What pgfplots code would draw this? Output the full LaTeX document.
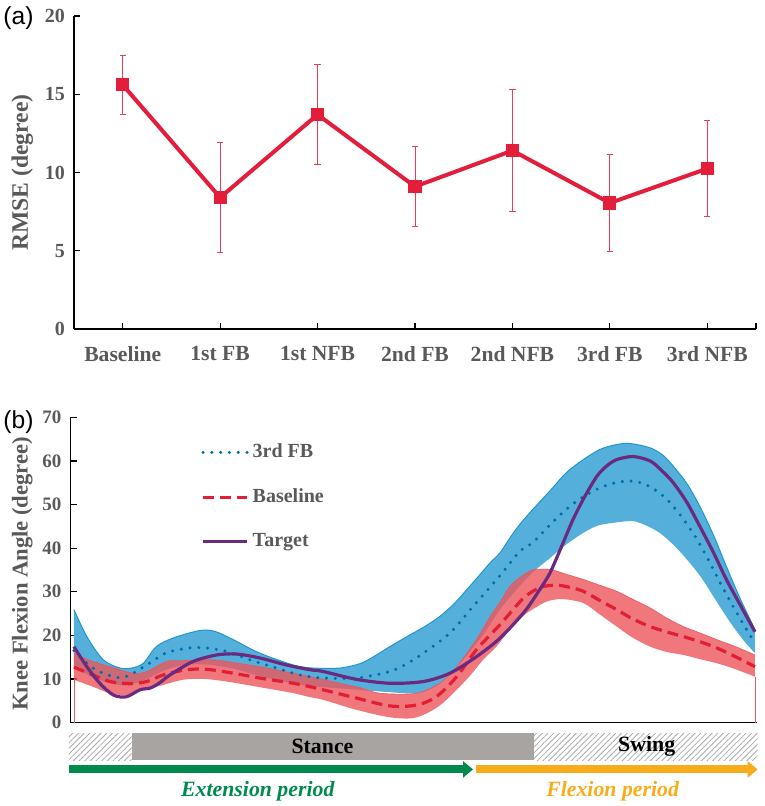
\documentclass[border=0pt]{standalone}
\usepackage{fontspec}
\setmainfont{Liberation Serif}
\newfontfamily\labsans{Liberation Sans}
\usepackage{pgfplots}
\pgfplotsset{compat=1.18}
\usepackage{pgfplotstable}
\usepgfplotslibrary{fillbetween}
\usetikzlibrary{patterns.meta,arrows.meta}

\definecolor{labelgray}{RGB}{89,89,89}
\definecolor{topred}{RGB}{226,30,58}
\definecolor{bluefill}{RGB}{84,176,218}
\definecolor{blueedge}{RGB}{30,150,210}
\definecolor{bluedot}{RGB}{0,110,170}
\definecolor{redband}{RGB}{236,86,92}
\definecolor{reddash}{RGB}{226,30,55}
\definecolor{targetcol}{RGB}{106,42,128}
\definecolor{stancegray}{RGB}{168,164,162}
\definecolor{hatchgray}{RGB}{170,170,170}
\definecolor{extgreen}{RGB}{0,138,78}
\definecolor{flexorange}{RGB}{248,172,26}

\pgfplotstableread{
x y e
0 15.6 1.9
1 8.4 3.5
2 13.7 3.2
3 9.1 2.55
4 11.4 3.9
5 8.05 3.1
6 10.25 3.07
}\rmsetab

\pgfplotstableread{
x y
0 25.9
1.9 19.7
4.3 14.4
6.75 12.5
8.5 12.5
10.2 13.6
12.1 17.4
14.6 19.4
18.5 21.1
20.7 20.9
23.4 19.0
27.3 15.9
32.2 13.2
35 12.5
39.1 12.5
42 13.5
44 15.1
46.5 17.5
48.9 19.7
51.5 22
53.7 24.3
55.8 27.2
57.7 30.5
59.5 33.7
61.1 36.6
62.6 39
64 42.3
65.5 45.5
67.4 48.9
70 53.3
72.3 57.3
74.8 60.3
77.2 62.6
79.5 63.7
81.6 64
84.6 63
86.5 61.3
88 58.8
90 54.8
91.9 49.6
93.9 43
95.8 35.8
97.8 28.5
100 21.3
}\fbuptab

\pgfplotstableread{
x y
0 13
2 11
4.3 9.5
6.5 8.6
8.5 8.8
10.5 9.8
13 11.8
16 13.2
19.5 13.3
23 12.5
27 10.8
32 9
36 8.2
41 7.6
46 7
50.3 6.7
53 8.2
55.5 11.5
58 16
60.5 21
62.6 26
65 30.5
67.4 34.5
69.9 37.7
72 40.5
74.8 43.5
77 45.2
79.7 45.9
82.1 46.2
84 45.2
86 43.5
88 40.8
90 37.4
92 33.5
93.9 28.9
95.5 25
96.8 22
98.5 18.5
100 15.9
}\fblotab

\pgfplotstableread{
x y
0 16.5
2.35 13
4.3 11.3
6.5 10.3
8.2 10.9
10.7 13.2
13.6 16
17 17.1
19.5 17.1
22.4 16.3
25.8 14.4
29.3 12.7
33.2 10.9
36.6 10.2
41.5 10.2
46.4 11.7
48.9 13.5
51.3 15.9
55.2 20.5
58.6 26.6
62.3 33.2
65.5 39.3
67.4 41.3
70 45.5
72.3 48.9
74.8 51.8
77.2 53.8
79.5 55
81.6 55.4
83.6 54.8
85.6 53.1
87.5 50.5
89.5 46.6
91.5 42
93.4 36.6
95 31.7
96.8 26.6
98.5 22
100 18.2
}\fbmeantab

\pgfplotstableread{
x y
0 17.4
1.9 12.8
3.8 9
5.8 6.3
7.7 5.9
9.7 7.5
11.2 7.9
12.5 9
14.1 10.9
17.5 14
21 15.5
23.9 15.7
27.3 14.8
31.2 13.2
34.7 12.1
36.6 11.7
41.5 9.9
46.4 9
51.3 9.4
55.2 11.3
59.1 15.1
62.6 19.4
66.2 25.5
68.4 30.5
69.9 34.3
71.5 40
73.3 46.6
75 51.8
76.8 56.5
78.2 58.8
79.7 60.3
82.1 61
84.6 60
86.3 57.8
88 55
90 50.5
91.9 45
93.9 39
95.8 32.8
98 26.5
100 20.8
}\targettab

\pgfplotstableread{
x y
0 16
1.9 14.5
5.3 12.8
8.7 11.3
10.7 11.7
13.6 14
16 14.2
20 14.4
22.4 14
27.3 12.8
32.2 11.3
34.7 10.5
39.1 9
42 8
45 6.7
50.3 6.7
53.7 9
55.8 12
57.7 15.9
59.5 20
61.1 24.3
62.6 27.7
64 31.2
65.5 33.3
67.4 35
69.9 35.1
72.3 34
74.8 32.8
77.2 31.5
79.7 30.1
82 28.3
84.6 26.3
87 24
89.5 22
92 20.5
94.4 19
97 17.5
100 15.5
}\bluptab

\pgfplotstableread{
x y
0 9.8
2.8 8.2
5.3 6.7
7.7 6.3
10.2 7.5
12.6 8.4
16 9.8
19 10
22.4 9.4
27.3 8.1
32 6.8
34.7 5.8
36.6 5.2
41.5 2.9
46.4 1.2
49.8 1
52.3 2.5
54.2 4.5
56.2 7.5
58.2 10.8
60.1 14.4
62.1 17.5
64 21.3
66 24.5
67.4 26
69.5 27.8
71.8 28.3
74.8 27.4
77.2 24.8
79.7 22
82 19.5
84.6 17.4
87 16.2
89.5 15.5
92 14.5
94.4 13.6
97 12.3
100 10.5
}\bllotab

\pgfplotstableread{
x y
0 12.7
2.8 10.9
5.3 9.4
8.2 8.9
10.7 9.4
13.1 10.9
16.5 12.1
19.5 12.2
23.4 11.3
27.3 10.2
32.2 9
34.7 8.2
36.6 7.5
41.5 5.6
46.4 3.8
50.3 4
53.2 5.9
56.2 10.5
59.1 16.7
62.6 22.5
66 28.5
68.5 31
70.9 31.5
72.8 31
74.8 30.1
77.2 28
79.7 25.9
82 23.8
84.6 22
87 20.8
89.5 19.7
92 18.5
94.4 17.1
97 15.2
100 12.8
}\blmeantab

\begin{document}
\begin{tikzpicture}

% ---------------- panel (a) ----------------
\begin{axis}[
  at={(37pt,-164.5pt)}, anchor=south west,
  scale only axis, width=341pt, height=156.5pt,
  xmin=-0.5, xmax=6.5, ymin=0, ymax=20,
  axis lines=left, axis line style={-, line width=0.7pt},
  xtick={0,...,6},
  xticklabels={Baseline,1st FB,1st NFB,2nd FB,2nd NFB,3rd FB,3rd NFB},
  extra x ticks={6.5}, extra x tick labels={},
  ytick={0,5,10,15,20},
  tick align=inside, major tick length=3pt,
  tick style={black, line width=0.6pt},
  /pgf/number format/assume math mode=true,
  xticklabel style={font=\fontsize{10.8}{12}\selectfont\bfseries, text=labelgray, yshift=-5pt},
  yticklabel style={font=\fontsize{10}{11}\selectfont\bfseries, text=labelgray, xshift=-1pt},
  ylabel={RMSE (degree)},
  ylabel style={font=\fontsize{11.8}{13}\selectfont\bfseries, text=labelgray, yshift=-1pt},
]
\addplot[topred, line width=2pt, mark=square*, mark size=2.3pt,
  error bars/.cd, y dir=both, y explicit,
  error bar style={topred!85, line width=0.5pt},
  error mark options={rotate=90, mark size=1.6pt, line width=0.5pt, topred!85}]
  table[x=x, y=y, y error=e] {\rmsetab};
\end{axis}
\node[anchor=west, font=\labsans\fontsize{12.3}{14}\selectfont, inner sep=0pt] at (1.5pt,-9pt) {(a)};

% ---------------- panel (b) ----------------
\begin{axis}[
  at={(35.25pt,-361.25pt)}, anchor=south west,
  scale only axis, width=343.25pt, height=152.6pt,
  xmin=-0.5, xmax=100.3, ymin=0, ymax=70,
  clip=false,
  axis lines=left, axis line style={-, line width=0.7pt},
  xtick=\empty,
  ytick={0,10,...,70},
  tick align=inside, major tick length=3pt,
  tick style={black, line width=0.6pt},
  /pgf/number format/assume math mode=true,
  yticklabel style={font=\fontsize{9.5}{11}\selectfont\bfseries, text=labelgray, xshift=-1pt},
  ylabel={Knee Flexion Angle (degree)},
  ylabel style={font=\fontsize{11.3}{13}\selectfont\bfseries, text=labelgray, yshift=-2pt, xshift=-2pt},
  legend style={at={(0.19,0.927)}, anchor=north west, draw=none, fill=none,
    font=\fontsize{10}{12}\selectfont\bfseries, text=labelgray,
    row sep=10pt, inner sep=0pt, cells={anchor=west}},
  legend image code/.code={\draw[#1] (0pt,0pt) -- (22pt,0pt);},
]
% blue band
\addplot[name path=fbu, blueedge, line width=0.5pt, smooth, forget plot] table {\fbuptab};
\addplot[name path=fbl, draw=none, smooth, forget plot] table {\fblotab};
\addplot[bluefill, draw=none, forget plot] fill between[of=fbu and fbl];
% red band
\addplot[name path=blu, redband, line width=0.3pt, smooth, forget plot] table {\bluptab};
\addplot[name path=bll, draw=none, smooth, forget plot] table {\bllotab};
\addplot[redband, fill opacity=0.8, draw=none, forget plot] fill between[of=blu and bll];
\addplot[redband, line width=0.4pt, forget plot] coordinates {(0,0) (0,10)};
\addplot[redband, line width=0.4pt, forget plot] coordinates {(100,0) (100,10.5)};
% means
\addplot[bluedot, line width=1.7pt, line cap=round, dash pattern=on 0pt off 4.4pt, smooth] table {\fbmeantab};
\addlegendentry{3rd FB}
\addplot[reddash, line width=1.6pt, dash pattern=on 5.5pt off 3pt, smooth] table {\blmeantab};
\addlegendentry{Baseline}
\addplot[targetcol, line width=1.6pt, smooth] table {\targettab};
\addlegendentry{Target}

% gait phase bars
\fill[pattern={Lines[angle=45, distance=2pt, line width=0.4pt]}, pattern color=hatchgray]
  (axis cs:-0.73,-2.41) rectangle (axis cs:8.47,-8.62);
\fill[stancegray] (axis cs:8.47,-2.41) rectangle (axis cs:67.5,-8.62);
\fill[pattern={Lines[angle=45, distance=2pt, line width=0.4pt]}, pattern color=hatchgray]
  (axis cs:67.5,-2.41) rectangle (axis cs:100.4,-8.62);
\node[font=\fontsize{10.9}{12}\selectfont\bfseries] at (axis cs:36.5,-5.5) {Stance};
\node[font=\fontsize{10.9}{12}\selectfont\bfseries] at (axis cs:84.1,-5.5) {Swing};
\draw[flexorange, line width=4pt, -{Triangle[length=5pt, width=8pt]}]
  (axis cs:59,-10.76) -- (axis cs:100.4,-10.76);
\draw[extgreen, line width=4pt, -{Triangle[length=5pt, width=8pt]}]
  (axis cs:-0.73,-10.76) -- (axis cs:58.6,-10.76);
\node[font=\fontsize{10.9}{12}\selectfont\bfseries\itshape, text=extgreen] at (axis cs:27,-15.7) {Extension period};
\node[font=\fontsize{10.9}{12}\selectfont\bfseries\itshape, text=flexorange] at (axis cs:79.1,-15.7) {Flexion period};
\end{axis}
\node[anchor=west, font=\labsans\fontsize{12.3}{14}\selectfont, inner sep=0pt] at (1.5pt,-211pt) {(b)};
\pgfresetboundingbox
\path[use as bounding box] (0,0) rectangle (382pt,-403pt);
\end{tikzpicture}
\end{document}
